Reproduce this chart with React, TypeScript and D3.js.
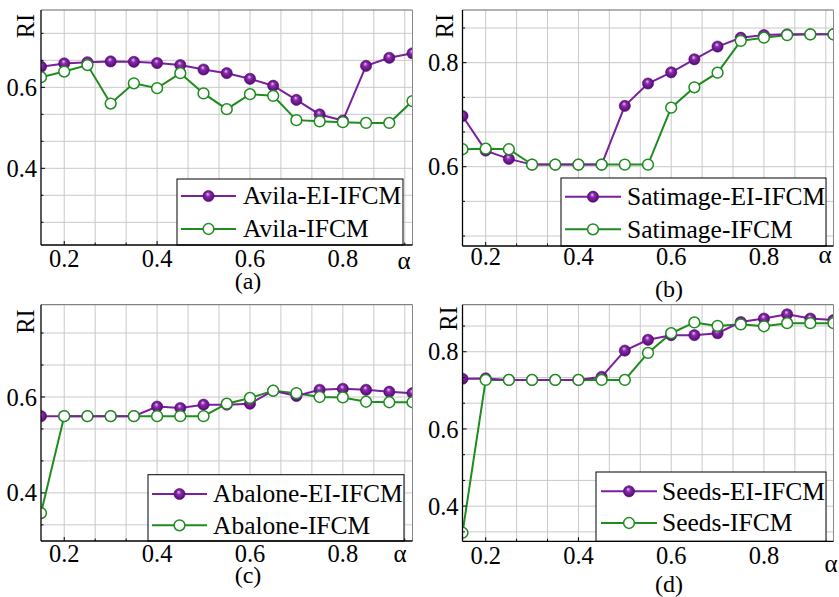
import React from "react";
import * as d3 from "d3";

const alphas = [0.15, 0.2, 0.25, 0.3, 0.35, 0.4, 0.45, 0.5, 0.55, 0.6, 0.65, 0.7, 0.75, 0.8, 0.85, 0.9, 0.95];

const avilaEI = [0.651, 0.659, 0.662, 0.664, 0.663, 0.660, 0.655, 0.644, 0.635, 0.621, 0.604, 0.569, 0.533, 0.518, 0.653, 0.673, 0.684];
const avilaIFCM = [0.625, 0.639, 0.655, 0.560, 0.610, 0.598, 0.635, 0.585, 0.546, 0.583, 0.579, 0.519, 0.516, 0.514, 0.512, 0.512, 0.566];

const satEI = [0.6975, 0.631, 0.615, 0.604, 0.604, 0.604, 0.604, 0.717, 0.760, 0.7815, 0.8065, 0.831, 0.848, 0.853, 0.8545, 0.8545, 0.8545];
const satIFCM = [0.6335, 0.6346, 0.6335, 0.604, 0.604, 0.604, 0.604, 0.604, 0.604, 0.7135, 0.7527, 0.7808, 0.842, 0.848, 0.853, 0.8545, 0.8545];

const abaEI = [0.560, 0.560, 0.560, 0.560, 0.560, 0.580, 0.577, 0.584, 0.584, 0.586, 0.613, 0.602, 0.615, 0.617, 0.615, 0.611, 0.608];
const abaIFCM = [0.358, 0.560, 0.560, 0.560, 0.560, 0.560, 0.560, 0.560, 0.586, 0.598, 0.613, 0.608, 0.600, 0.599, 0.590, 0.589, 0.589];

const seedsEI = [0.730, 0.731, 0.727, 0.727, 0.727, 0.727, 0.735, 0.803, 0.831, 0.843, 0.843, 0.848, 0.877, 0.886, 0.897, 0.886, 0.882];
const seedsIFCM = [0.331, 0.727, 0.727, 0.727, 0.727, 0.727, 0.727, 0.727, 0.797, 0.848, 0.876, 0.867, 0.871, 0.866, 0.874, 0.874, 0.874];

const xTickLabels = ["0.2", "0.4", "0.6", "0.8"];
const xTickValues = [0.2, 0.4, 0.6, 0.8];
const legendNames = [
  ["Avila-EI-IFCM", "Avila-IFCM"],
  ["Satimage-EI-IFCM", "Satimage-IFCM"],
  ["Abalone-EI-IFCM", "Abalone-IFCM"],
  ["Seeds-EI-IFCM", "Seeds-IFCM"],
];
const captions = ["(a)", "(b)", "(c)", "(d)"];

const PURPLE = "#7a1f9e";
const GREEN = "#1e8c1e";
const FONT = "'Liberation Serif', 'DejaVu Serif', serif";

type PanelCfg = {
  id: string;
  x0: number; x1: number; y0: number; y1: number;
  yDomain: [number, number];
  yTicks: number[];
  ei: number[]; ifcm: number[];
  names: string[];
  caption: string;
  capX: number; capY: number;
  alphaX: number; alphaY: number;
  xLabY: number;
  riX: number; riY: number;
  leg: { x: number; y: number; w: number; h: number; s0: number; s1: number; tx: number; r1: number; dy: number };
};

const panels: PanelCfg[] = [
  {
    id: "a", x0: 41, x1: 412.5, y0: 10, y1: 245, yDomain: [0.2106, 0.791], yTicks: [0.4, 0.6],
    ei: avilaEI, ifcm: avilaIFCM, names: legendNames[0], caption: captions[0],
    capX: 248, capY: 289, alphaX: 404, alphaY: 269, xLabY: 267, riX: 25, riY: 26,
    leg: { x: 177, y: 179, w: 226, h: 66, s0: 181, s1: 236, tx: 243, r1: 196, dy: 33 },
  },
  {
    id: "b", x0: 462.5, x1: 833.5, y0: 10, y1: 246, yDomain: [0.4475, 0.9013], yTicks: [0.6, 0.8],
    ei: satEI, ifcm: satIFCM, names: legendNames[1], caption: captions[1],
    capX: 669, capY: 297, alphaX: 825, alphaY: 263, xLabY: 265, riX: 444.5, riY: 26,
    leg: { x: 561, y: 178, w: 265, h: 68, s0: 565, s1: 621, tx: 627, r1: 196.7, dy: 32.6 },
  },
  {
    id: "c", x0: 41, x1: 412.5, y0: 304.7, y1: 541, yDomain: [0.2997, 0.7924], yTicks: [0.4, 0.6],
    ei: abaEI, ifcm: abaIFCM, names: legendNames[2], caption: captions[2],
    capX: 248, capY: 583, alphaX: 400, alphaY: 562, xLabY: 562, riX: 25.5, riY: 321.5,
    leg: { x: 148, y: 474.7, w: 256, h: 66.3, s0: 152, s1: 207, tx: 213, r1: 494, dy: 31.3 },
  },
  {
    id: "d", x0: 462.5, x1: 833.5, y0: 304.7, y1: 541.3, yDomain: [0.3089, 0.9219], yTicks: [0.4, 0.6, 0.8],
    ei: seedsEI, ifcm: seedsIFCM, names: legendNames[3], caption: captions[3],
    capX: 669, capY: 592, alphaX: 831, alphaY: 572, xLabY: 564, riX: 448, riY: 318.5,
    leg: { x: 596, y: 472, w: 230, h: 69.3, s0: 601, s1: 657, tx: 662, r1: 491.3, dy: 31.7 },
  },
];

function Panel({ p }: { p: PanelCfg }) {
  const x = d3.scaleLinear().domain([0.15, 0.95]).range([p.x0, p.x1]);
  const y = d3.scaleLinear().domain(p.yDomain).range([p.y1, p.y0]);
  const xGrid = d3.range(-3, 15).map((k) => 0.2 + (k * 0.2) / 3).filter((v) => v > 0.151 && v < 0.949);
  const yGrid = d3.range(-12, 15).map((k) => 0.2 + (k * 0.2) / 3).filter((v) => v > p.yDomain[0] + 0.001 && v < p.yDomain[1] - 0.001);
  const line = d3.line<number>().x((_, i) => x(alphas[i])).y((d) => y(d));
  const isMajor = (v: number) => Math.abs(v * 5 - Math.round(v * 5)) < 1e-6;
  const clipId = `clip-${p.id}`;
  const L = p.leg;
  return (
    <g>
      <defs>
        <clipPath id={clipId}>
          <rect x={p.x0} y={p.y0} width={p.x1 - p.x0} height={p.y1 - p.y0} />
        </clipPath>
      </defs>
      <rect x={p.x0} y={p.y0} width={p.x1 - p.x0} height={p.y1 - p.y0} fill="#fff" />
      {xGrid.map((v, i) => (
        <line key={"gx" + i} x1={x(v)} x2={x(v)} y1={p.y0} y2={p.y1} stroke="#c9c9c9" strokeWidth={1} />
      ))}
      {yGrid.map((v, i) => (
        <line key={"gy" + i} x1={p.x0} x2={p.x1} y1={y(v)} y2={y(v)} stroke="#c9c9c9" strokeWidth={1} />
      ))}
      <g clipPath={`url(#${clipId})`}>
        <path d={line(p.ifcm) || ""} fill="none" stroke={GREEN} strokeWidth={2} />
        <path d={line(p.ei) || ""} fill="none" stroke={PURPLE} strokeWidth={2} />
        {p.ei.map((v, i) => (
          <circle key={"pe" + i} cx={x(alphas[i])} cy={y(v)} r={5.6} fill="url(#ballGrad)" stroke="#5a0a7a" strokeWidth={0.6} />
        ))}
        {p.ifcm.map((v, i) => (
          <circle key={"pi" + i} cx={x(alphas[i])} cy={y(v)} r={5.4} fill="#fff" stroke={GREEN} strokeWidth={1.5} />
        ))}
      </g>
      {/* frame */}
      <line x1={p.x0} x2={p.x1} y1={p.y0} y2={p.y0} stroke="#666" strokeWidth={1} />
      <line x1={p.x1} x2={p.x1} y1={p.y0} y2={p.y1} stroke="#888" strokeWidth={1} />
      {/* ticks */}
      {yGrid.map((v, i) => (
        <line key={"ty" + i} x1={p.x0} x2={p.x0 + (isMajor(v) ? 4 : 2.5)} y1={y(v)} y2={y(v)} stroke="#000" strokeWidth={1} />
      ))}
      {xGrid.map((v, i) => (
        <line key={"tx" + i} x1={x(v)} x2={x(v)} y1={p.y1} y2={p.y1 - (isMajor(v) ? 4 : 2.5)} stroke="#000" strokeWidth={1} />
      ))}
      {/* legend */}
      <rect x={L.x} y={L.y} width={L.w} height={L.h} fill="#fff" stroke="#000" strokeWidth={1} />
      <line x1={L.s0} x2={L.s1} y1={L.r1} y2={L.r1} stroke={PURPLE} strokeWidth={2} />
      <circle cx={(L.s0 + L.s1) / 2} cy={L.r1} r={5.6} fill="url(#ballGrad)" stroke="#5a0a7a" strokeWidth={0.6} />
      <text x={L.tx} y={L.r1} dy="0.33em" fontSize={25.5} fontFamily={FONT} fill="#000">{p.names[0]}</text>
      <line x1={L.s0} x2={L.s1} y1={L.r1 + L.dy} y2={L.r1 + L.dy} stroke={GREEN} strokeWidth={2} />
      <circle cx={(L.s0 + L.s1) / 2} cy={L.r1 + L.dy} r={5.4} fill="#fff" stroke={GREEN} strokeWidth={1.5} />
      <text x={L.tx} y={L.r1 + L.dy} dy="0.33em" fontSize={25.5} fontFamily={FONT} fill="#000">{p.names[1]}</text>
      {/* axes */}
      <line x1={p.x0} x2={p.x0} y1={p.y0} y2={p.y1} stroke="#000" strokeWidth={1.3} />
      <line x1={p.x0} x2={p.x1} y1={p.y1} y2={p.y1} stroke="#000" strokeWidth={1.3} />
      {p.yTicks.map((v, i) => (
        <text key={"yl" + i} x={p.x0 - 4} y={y(v)} dy="0.35em" textAnchor="end" fontSize={24.5} fontFamily={FONT} fill="#000">
          {v.toFixed(1)}
        </text>
      ))}
      {xTickValues.map((v, i) => (
        <text key={"xl" + i} x={x(v)} y={p.xLabY} textAnchor="middle" fontSize={24.5} fontFamily={FONT} fill="#000">
          {xTickLabels[i]}
        </text>
      ))}
      <text x={p.alphaX} y={p.alphaY} textAnchor="middle" fontSize={25} fontFamily={FONT} fill="#000">α</text>
      <text transform={`translate(${p.riX},${p.riY}) rotate(-90)`} textAnchor="middle" dy="0.35em" fontSize={24.5} fontFamily={FONT} fill="#000">RI</text>
      <text x={p.capX} y={p.capY} textAnchor="middle" fontSize={24} fontFamily={FONT} fill="#000">{p.caption}</text>
    </g>
  );
}

export default function App() {
  return (
    <svg width={839} height={597} viewBox="0 0 839 597" style={{ position: "absolute", left: 0, top: 0, background: "#fff" }}>
      <defs>
        <radialGradient id="ballGrad" cx="0.5" cy="0.5" r="0.55" fx="0.42" fy="0.3">
          <stop offset="0" stopColor="#e6c8f0" />
          <stop offset="0.35" stopColor="#8a2aad" />
          <stop offset="1" stopColor="#4a0866" />
        </radialGradient>
      </defs>
      <rect width={839} height={597} fill="#fff" />
      {panels.map((p) => (
        <Panel key={p.id} p={p} />
      ))}
    </svg>
  );
}
